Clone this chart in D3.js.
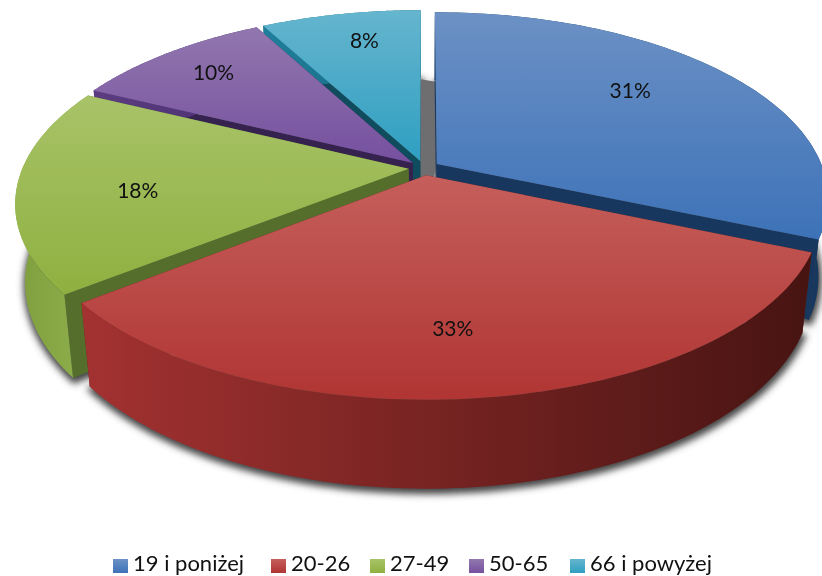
<!DOCTYPE html>
<html><head><meta charset="utf-8">
<script src="https://cdn.jsdelivr.net/npm/d3@7/dist/d3.min.js"></script>
<style>html,body{margin:0;padding:0;background:#fff}svg{display:block}text{font-family:Lato,"Open Sans",sans-serif;fill:#111}</style>
</head><body><svg id="c" width="822" height="576"></svg>
<script>
const categories=["19 i poniżej","20-26","27-49","50-65","66 i powyżej"];
const values=[31.4,33,17.8,9.9,7.9];
const topLight=["#6c91c5","#c55f5b","#a8c368","#9177ae","#65b5ce"];
const topDark=["#3d72b8","#b03533","#8fb040","#76509f","#2f9fc1"];
const cutColors=["#17375e","#5a1c1a","#566e2c","#35224f","#0f4c5e"];
const sideLight=["#1d4068","#a33231","#8fae4c","#5b3c80","#1f7f9c"];
const sideDark=["#17375e","#471412","#7f9f3e","#4a3070","#17657c"];
const labelNudge=[[-10,-10],[-16,3],[-6,9],[-17,-9],[4,-10]];
const labelRadius=[.68,.72,.68,.72,.72];

const W=822,H=576,cx=424,cy=168,A=386,B=180.7,k=.182,ex=.04,shrink=.976,samples=90;
const svg=d3.select("#c"),defs=svg.append("defs");
const f=defs.append("filter").attr("id","sh").attr("x","-10%").attr("y","-10%").attr("width","120%").attr("height","120%");
f.append("feGaussianBlur").attr("stdDeviation",3.5);
const clip=defs.append("clipPath").attr("id","cl");clip.append("rect").attr("width",W).attr("height",H);

const arcs=d3.pie().sort(null).value(d=>d).startAngle(0).endAngle(2*Math.PI)(values);
function proj(ux,uy){const w=1-k*uy;return [cx+A*ux/w,cy+B*uy/w];}
function rim(d,t,r=1){const m=(d.startAngle+d.endAngle)/2;
  return proj(r*Math.sin(t)+ex*Math.sin(m),-r*Math.cos(t)-ex*Math.cos(m));}
function drop(p){return [cx+(p[0]-cx)*shrink,p[1]+78+.055*(p[1]-cy-32)];}
function ts(d){return d3.range(samples+1).map(i=>d.startAngle+(d.endAngle-d.startAngle)*i/samples);}
const line=d3.line().x(p=>p[0]).y(p=>p[1]);
const path=pts=>line(pts)+"Z";

function grad(id,x1,y1,x2,y2,c1,c2,cm){const g=defs.append("linearGradient").attr("id",id).attr("gradientUnits","userSpaceOnUse")
 .attr("x1",x1).attr("y1",y1).attr("x2",x2).attr("y2",y2);
 g.append("stop").attr("offset",0).attr("stop-color",c1);
 if(cm)g.append("stop").attr("offset",.5).attr("stop-color",cm);
 g.append("stop").attr("offset",1).attr("stop-color",c2);}

const root=svg.append("g").attr("clip-path","url(#cl)");
const sg=root.append("g").attr("filter","url(#sh)");
arcs.forEach(d=>{const top=ts(d).map(t=>drop(rim(d,t)));const c=drop(rim(d,0,0));
  sg.append("path").attr("d",path([c,...top])).attr("fill","#444").attr("stroke","#444").attr("stroke-width",5).attr("transform","translate(1,3)");});

(function(){const b=arcs[0],c=arcs[4],fr=.5;
  const p1=rim(b,0,0),p2=rim(b,0,fr),p3=rim(c,2*Math.PI,fr),p4=rim(c,2*Math.PI,0);
  root.append("path").attr("d",path([p1,p2,p3,p4,drop(p4)])).attr("fill","#6e6e70");})();

[4,3,2,0,1].forEach(i=>{const d=arcs[i];
  const T=rim(d,0,0),P0=rim(d,d.startAngle),P1=rim(d,d.endAngle);
  [P0,P1].forEach(P=>{root.append("path").attr("d",path([T,P,drop(P),drop(T)])).attr("fill",cutColors[i]);});
  const rimPts=ts(d).map(t=>rim(d,t));
  const xs=rimPts.map(p=>p[0]);
  const sid="side"+i;
  grad(sid,d3.min(xs),0,d3.max(xs),0,i==2?sideDark[i]:sideLight[i],i==2?sideLight[i]:sideDark[i]);
  root.append("path").attr("d",path([...rimPts,...rimPts.map(drop).reverse()])).attr("fill",`url(#${sid})`);
  const tid="top"+i;
  const ys=[T[1],...rimPts.map(p=>p[1])];
  grad(tid,0,d3.min(ys),0,d3.max(ys),topLight[i],topDark[i]);
  root.append("path").attr("d",path([T,...rimPts])).attr("fill",`url(#${tid})`);
});

const total=d3.sum(values);
arcs.forEach((d,i)=>{const m=(d.startAngle+d.endAngle)/2,p=rim(d,m,labelRadius[i]);
  svg.append("text").attr("x",p[0]+labelNudge[i][0]).attr("y",p[1]+labelNudge[i][1]).attr("dy",".35em").attr("text-anchor","middle")
    .attr("font-size",21).text(d3.format(".0%")(values[i]/total));});

const legendLeft=[113,271,370,469,570];
const lg=svg.append("g");
categories.forEach((c,i)=>{grad("lg"+i,0,559,0,573,topLight[i],topDark[i]);
  lg.append("rect").attr("x",legendLeft[i]).attr("y",559).attr("width",15).attr("height",14).attr("fill",`url(#lg${i})`);
  lg.append("text").attr("x",legendLeft[i]+20).attr("y",571).attr("font-size",22).text(c);});
</script></body></html>
